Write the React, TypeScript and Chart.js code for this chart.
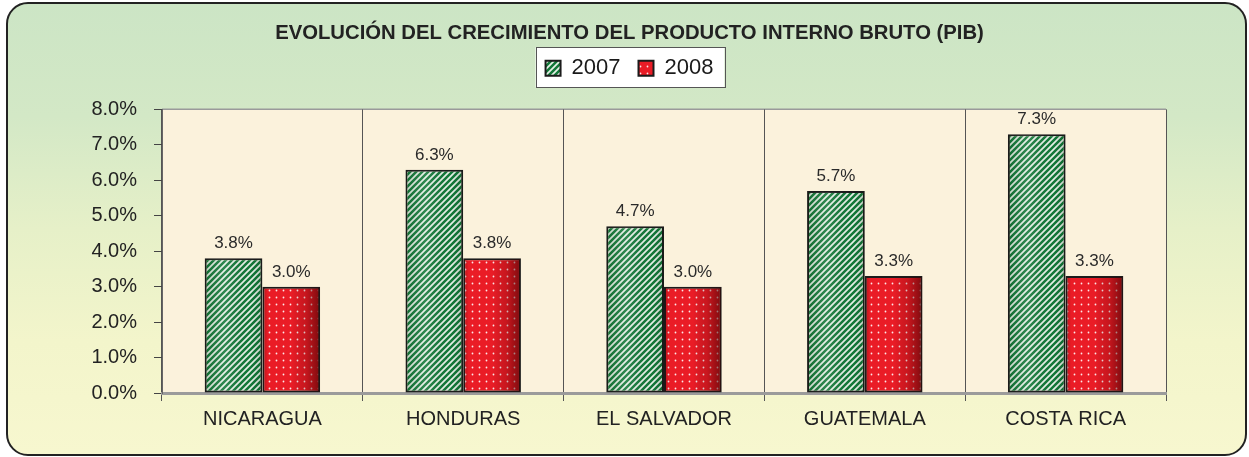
import React, { useEffect, useRef } from 'react';
import { Chart, registerables } from 'chart.js';

Chart.register(...registerables);

const categories = ['NICARAGUA', 'HONDURAS', 'EL SALVADOR', 'GUATEMALA', 'COSTA RICA'];
const seriesNames = ['2007', '2008'];
const values2007 = [3.8, 6.3, 4.7, 5.7, 7.3];
const values2008 = [3.0, 3.8, 3.0, 3.3, 3.3];
const yTicks = [0, 1, 2, 3, 4, 5, 6, 7, 8];
const titleText = 'EVOLUCIÓN DEL CRECIMIENTO DEL PRODUCTO INTERNO BRUTO (PIB)';

const FONT = "'Liberation Sans', Arial, sans-serif";

function stripePattern(ctx: CanvasRenderingContext2D) {
  const c = document.createElement('canvas');
  c.width = 6;
  c.height = 6;
  const g = c.getContext('2d')!;
  g.fillStyle = '#e6f0e7';
  g.fillRect(0, 0, 6, 6);
  g.strokeStyle = '#127838';
  g.lineWidth = 2.5;
  g.beginPath();
  g.moveTo(0, 6); g.lineTo(6, 0);
  g.moveTo(-3, 3); g.lineTo(3, -3);
  g.moveTo(3, 9); g.lineTo(9, 3);
  g.stroke();
  return ctx.createPattern(c, 'repeat')!;
}

function dotPattern(ctx: CanvasRenderingContext2D) {
  const c = document.createElement('canvas');
  c.width = 7;
  c.height = 7;
  const g = c.getContext('2d')!;
  g.fillStyle = '#ea1c26';
  g.fillRect(0, 0, 7, 7);
  g.fillStyle = 'rgba(255,255,255,0.9)';
  g.beginPath();
  g.arc(3.5, 3.5, 0.9, 0, Math.PI * 2);
  g.fill();
  return ctx.createPattern(c, 'repeat')!;
}

const decorPlugin = {
  id: 'decor',
  beforeLayout(chart: any) {
    const lg = chart.legend;
    if (lg && !lg.__patched) {
      const orig = lg.fit.bind(lg);
      lg.fit = function () {
        orig();
        this.height = 70;
      };
      lg.__patched = true;
    }
  },
  beforeDraw(chart: any) {
    const { ctx, chartArea } = chart;
    ctx.save();
    ctx.fillStyle = '#fbf2dc';
    ctx.fillRect(chartArea.left, chartArea.top, chartArea.right - chartArea.left, chartArea.bottom - chartArea.top);
    ctx.strokeStyle = '#9a9a9a';
    ctx.lineWidth = 1.5;
    ctx.beginPath();
    ctx.moveTo(chartArea.left, chartArea.top);
    ctx.lineTo(chartArea.right, chartArea.top);
    ctx.stroke();
    const lg = chart.legend;
    const hb = lg && lg.legendHitBoxes;
    if (hb && hb.length) {
      const left = Math.min(...hb.map((h: any) => h.left)) - 10;
      const right = Math.max(...hb.map((h: any) => h.left + h.width)) + 11;
      const top = hb[0].top - 10;
      const bottom = hb[0].top + hb[0].height + 8;
      ctx.fillStyle = '#ffffff';
      ctx.fillRect(left, top, right - left, bottom - top);
      ctx.strokeStyle = '#555';
      ctx.lineWidth = 1;
      ctx.strokeRect(Math.round(left) + 0.5, Math.round(top) + 0.5, Math.round(right - left), Math.round(bottom - top));
    }
    ctx.restore();
  },
  afterDatasetsDraw(chart: any) {
    const { ctx } = chart;
    ctx.save();
    chart.data.datasets.forEach((ds: any, di: number) => {
      const meta = chart.getDatasetMeta(di);
      meta.data.forEach((el: any, i: number) => {
        const { x, y, base, width } = el.getProps(['x', 'y', 'base', 'width'], true);
        const l = x - width / 2 + 1;
        const r = x + width / 2 - 1;
        const grad = ctx.createLinearGradient(l, 0, r, 0);
        if (di === 1) {
          grad.addColorStop(0, 'rgba(90,0,0,0.25)');
          grad.addColorStop(0.08, 'rgba(0,0,0,0)');
          grad.addColorStop(0.5, 'rgba(0,0,0,0)');
          grad.addColorStop(0.75, 'rgba(70,0,0,0.2)');
          grad.addColorStop(1, 'rgba(60,0,0,0.6)');
        } else {
          grad.addColorStop(0, 'rgba(0,40,0,0.15)');
          grad.addColorStop(0.35, 'rgba(255,255,255,0.12)');
          grad.addColorStop(0.8, 'rgba(0,0,0,0)');
          grad.addColorStop(1, 'rgba(0,30,0,0.15)');
        }
        ctx.fillStyle = grad;
        ctx.fillRect(l, y + 1, r - l, base - y - 2);
        ctx.fillStyle = '#2a2a2a';
        ctx.font = `17px ${FONT}`;
        ctx.textAlign = 'center';
        ctx.textBaseline = 'alphabetic';
        ctx.fillText(ds.data[i].toFixed(1) + '%', x, y - 10);
      });
    });
    ctx.restore();
  },
};

export default function App() {
  const ref = useRef<HTMLCanvasElement>(null);

  useEffect(() => {
    const canvas = ref.current!;
    const ctx = canvas.getContext('2d')!;
    const green = stripePattern(ctx);
    const red = dotPattern(ctx);
    const chart = new Chart(canvas, {
      type: 'bar',
      data: {
        labels: categories,
        datasets: [
          {
            label: seriesNames[0],
            data: values2007,
            backgroundColor: green,
            borderColor: '#1b1b1b',
            borderWidth: 2,
            borderSkipped: false,
            barPercentage: 1,
            categoryPercentage: 0.575,
          },
          {
            label: seriesNames[1],
            data: values2008,
            backgroundColor: red,
            borderColor: '#1b1b1b',
            borderWidth: 2,
            borderSkipped: false,
            barPercentage: 1,
            categoryPercentage: 0.575,
          },
        ],
      },
      options: {
        responsive: false,
        animation: false,
        devicePixelRatio: 1,
        layout: { padding: { top: 0, bottom: 20, left: 10, right: 0 } },
        plugins: {
          title: {
            display: true,
            text: titleText,
            color: '#222',
            font: { family: FONT, size: 20.3, weight: 'bold' },
            padding: { top: 21, bottom: -6 },
          },
          legend: {
            display: true,
            labels: {
              color: '#1a1a1a',
              font: { family: FONT, size: 22 },
              boxWidth: 15,
              boxHeight: 15,
              padding: 18,
            },
          },
          tooltip: { enabled: false },
        },
        scales: {
          x: {
            grid: {
              display: true,
              offset: true,
              drawOnChartArea: true,
              drawTicks: true,
              tickLength: 8,
              color: '#555',
              lineWidth: 1,
            },
            border: { display: true, color: '#9b9b9b', width: 3 },
            ticks: {
              color: '#222',
              font: { family: FONT, size: 20 },
              padding: 6,
              maxRotation: 0,
              autoSkip: false,
            },
          },
          y: {
            min: 0,
            max: 8,
            afterBuildTicks: (s: any) => {
              s.ticks = yTicks.map((v) => ({ value: v }));
            },
            afterFit: (s: any) => {
              s.width = 152;
            },
            grid: {
              display: true,
              drawOnChartArea: false,
              drawTicks: true,
              tickLength: 8,
              color: '#444',
            },
            border: { display: true, color: '#666', width: 1 },
            ticks: {
              color: '#222',
              font: { family: FONT, size: 20 },
              padding: 17,
              callback: (v: any) => Number(v).toFixed(1) + '%',
            },
          },
          yRight: {
            type: 'linear',
            position: 'right',
            display: true,
            min: 0,
            max: 8,
            grid: { display: false, drawTicks: false },
            border: { display: false },
            ticks: { display: false },
            afterFit: (s: any) => {
              s.width = 83;
            },
          },
        },
      },
      plugins: [decorPlugin],
    });
    return () => chart.destroy();
  }, []);

  return (
    <div style={{ position: 'fixed', left: 0, top: 0, width: 1249, height: 457 }}>
      <div
        style={{
          position: 'absolute',
          left: 6,
          top: 2,
          width: 1237,
          height: 450,
          border: '2px solid #222',
          borderRadius: 22,
          background: 'linear-gradient(to bottom, #cce5c5 0%, #d3e8c6 25%, #e6f0c8 50%, #f3f5cb 75%, #f7f7cf 100%)',
        }}
      />
      <canvas ref={ref} width={1249} height={457} style={{ position: 'absolute', left: 0, top: 0 }} />
    </div>
  );
}
